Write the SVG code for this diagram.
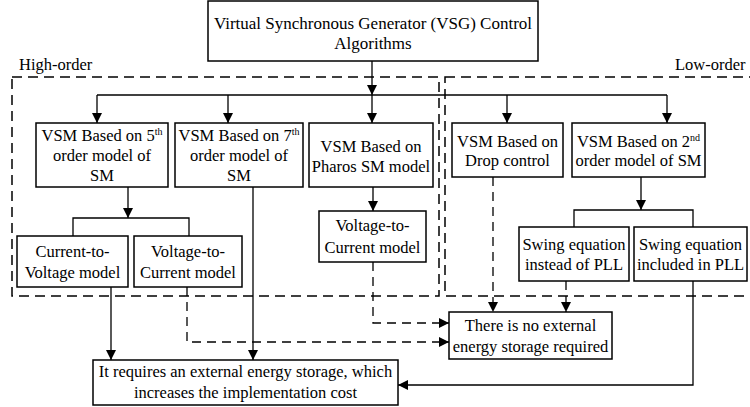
<svg xmlns="http://www.w3.org/2000/svg" width="750" height="407" viewBox="0 0 750 407">
<defs>
<marker id="ah" viewBox="0 0 10 10" refX="10" refY="5" markerWidth="10" markerHeight="10" markerUnits="userSpaceOnUse" orient="auto">
<path d="M0,0 L10,5 L0,10 Z" fill="#000"/>
</marker>
<style>
text{font-family:"Liberation Serif","Times New Roman",serif;font-size:16.5px;fill:#000;text-anchor:middle}
.box{fill:#fff;stroke:#000;stroke-width:1.5}
.grp{fill:none;stroke:#000;stroke-width:1.5;stroke-dasharray:10 6}
.c{fill:none;stroke:#000;stroke-width:1.3}
.d{fill:none;stroke:#000;stroke-width:1.3;stroke-dasharray:9 6}
.sup{font-size:10px}
.lab{text-anchor:start}
.title{font-size:17px}
</style>
</defs>
<rect width="750" height="407" fill="#fff"/>

<g id="groups">
<rect class="grp" x="12" y="77" width="427" height="219"/>
<rect class="grp" x="445" y="77" width="320" height="219"/>
<text class="lab" x="19" y="70">High-order</text>
<text class="lab" x="675" y="70">Low-order</text>
</g>

<g id="connectors">
<line class="c" x1="372" y1="61" x2="372" y2="95" marker-end="url(#ah)"/>
<line class="c" x1="97" y1="95" x2="667" y2="95"/>
<line class="c" x1="97" y1="95" x2="97" y2="123" marker-end="url(#ah)"/>
<line class="c" x1="228" y1="95" x2="228" y2="123" marker-end="url(#ah)"/>
<line class="c" x1="372" y1="95" x2="372" y2="123" marker-end="url(#ah)"/>
<line class="c" x1="507" y1="95" x2="507" y2="123" marker-end="url(#ah)"/>
<line class="c" x1="667" y1="95" x2="667" y2="123" marker-end="url(#ah)"/>
<line class="c" x1="128" y1="187" x2="128" y2="218" marker-end="url(#ah)"/>
<polyline class="c" points="73,236 73,218 189,218 189,236"/>
<line class="c" x1="373" y1="187" x2="373" y2="211" marker-end="url(#ah)"/>
<line class="c" x1="641" y1="177" x2="641" y2="210" marker-end="url(#ah)"/>
<polyline class="c" points="574,227 574,210 693,210 693,227"/>
<line class="c" x1="111" y1="287" x2="111" y2="360" marker-end="url(#ah)"/>
<line class="c" x1="253" y1="187" x2="253" y2="360" marker-end="url(#ah)"/>
<polyline class="c" points="693,281 693,385 398,385" marker-end="url(#ah)"/>
<polyline class="d" points="187,287 187,342 449,342" marker-end="url(#ah)"/>
<polyline class="d" points="373,262 373,323 449,323" marker-end="url(#ah)"/>
<line class="d" x1="493" y1="177" x2="493" y2="312" marker-end="url(#ah)"/>
<line class="d" x1="566" y1="281" x2="566" y2="312" marker-end="url(#ah)"/>
</g>

<g id="top">
<rect class="box" x="208" y="1" width="330" height="60"/>
<text class="title" x="373" y="29">Virtual Synchronous Generator (VSG) Control</text>
<text class="title" x="373" y="49">Algorithms</text>
</g>

<g id="vsm5">
<rect class="box" x="36" y="123" width="132" height="64"/>
<text x="102" y="141">VSM Based on 5<tspan class="sup" dy="-6">th</tspan></text>
<text x="102" y="161">order model of</text>
<text x="102" y="181">SM</text>
</g>

<g id="vsm7">
<rect class="box" x="175" y="123" width="128" height="64"/>
<text x="239" y="141">VSM Based on 7<tspan class="sup" dy="-6">th</tspan></text>
<text x="239" y="161">order model of</text>
<text x="239" y="181">SM</text>
</g>

<g id="pharos">
<rect class="box" x="309" y="123" width="124" height="64"/>
<text x="371" y="152">VSM Based on</text>
<text x="371" y="172">Pharos SM model</text>
</g>

<g id="drop">
<rect class="box" x="452" y="123" width="111" height="54"/>
<text x="507.5" y="147">VSM Based on</text>
<text x="507.5" y="166">Drop control</text>
</g>

<g id="vsm2">
<rect class="box" x="572" y="123" width="133" height="54"/>
<text x="638.5" y="147">VSM Based on 2<tspan class="sup" dy="-6">nd</tspan></text>
<text x="638.5" y="166">order model of SM</text>
</g>

<g id="ctv">
<rect class="box" x="17" y="236" width="111" height="51"/>
<text x="72.5" y="257">Current-to-</text>
<text x="72.5" y="278">Voltage model</text>
</g>

<g id="vtc1">
<rect class="box" x="134" y="236" width="108" height="51"/>
<text x="188" y="257">Voltage-to-</text>
<text x="188" y="278">Current model</text>
</g>

<g id="vtc2">
<rect class="box" x="319" y="211" width="107" height="51"/>
<text x="372.5" y="231">Voltage-to-</text>
<text x="372.5" y="253">Current model</text>
</g>

<g id="swing1">
<rect class="box" x="519" y="227" width="110" height="54"/>
<text x="574" y="250">Swing equation</text>
<text x="574" y="270">instead of PLL</text>
</g>

<g id="swing2">
<rect class="box" x="634" y="227" width="113" height="54"/>
<text x="690.5" y="250">Swing equation</text>
<text x="690.5" y="270">included in PLL</text>
</g>

<g id="noext">
<rect class="box" x="449" y="312" width="163" height="47"/>
<text x="530.5" y="331">There is no external</text>
<text x="530.5" y="352">energy storage required</text>
</g>

<g id="req">
<rect class="box" x="93" y="360" width="305" height="45"/>
<text x="245.5" y="377">It requires an external energy storage, which</text>
<text x="245.5" y="398">increases the implementation cost</text>
</g>
</svg>
